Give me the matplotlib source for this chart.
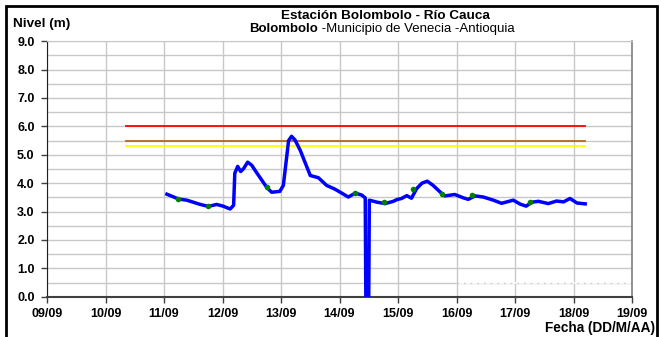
import numpy as np
import matplotlib.pyplot as plt
import matplotlib as mpl
from matplotlib.patches import Rectangle

mpl.rcParams.update({
    "font.family": ["Liberation Sans", "DejaVu Sans"],
    "font.size": 9,
    "font.weight": "bold",
})

# x values are days of September (9.0 = 09/09 00:00)
level_day = [11.05, 11.25, 11.39, 11.62, 11.76, 11.90, 12.01, 12.13, 12.19,
             12.21, 12.26, 12.31, 12.36, 12.43, 12.50, 12.59, 12.76, 12.84,
             12.98, 13.04, 13.13, 13.18, 13.24, 13.33, 13.50, 13.64, 13.78,
             13.92, 14.07, 14.15, 14.27, 14.38, 14.44, 14.45, 14.50, 14.51,
             14.64, 14.78, 14.92, 14.98, 15.06, 15.15, 15.23, 15.32, 15.41,
             15.50, 15.60, 15.75, 15.80, 15.97, 16.12, 16.20, 16.32, 16.46,
             16.63, 16.77, 16.97, 17.09, 17.19, 17.29, 17.40, 17.57, 17.71,
             17.83, 17.94, 18.06, 18.20]
level_m = [3.61, 3.44, 3.40, 3.25, 3.18, 3.25, 3.19, 3.09, 3.22,
           4.35, 4.59, 4.41, 4.51, 4.74, 4.63, 4.35, 3.84, 3.68,
           3.71, 3.92, 5.50, 5.65, 5.52, 5.15, 4.27, 4.19, 3.92,
           3.79, 3.61, 3.51, 3.65, 3.58, 3.48, 0.0, 0.0, 3.40,
           3.33, 3.28, 3.36, 3.42, 3.46, 3.56, 3.47, 3.81, 4.00,
           4.07, 3.92, 3.63, 3.55, 3.60, 3.48, 3.43, 3.55, 3.51,
           3.40, 3.29, 3.40, 3.26, 3.19, 3.33, 3.36, 3.28, 3.37,
           3.34, 3.46, 3.30, 3.27]

# manual readings (green dots)
obs_day = [11.245, 11.745, 12.755, 14.265, 14.76, 15.26, 15.76, 16.26, 17.26]
obs_m = [3.44, 3.19, 3.85, 3.65, 3.33, 3.78, 3.63, 3.57, 3.35]

# alert thresholds
alert_start, alert_end = 10.35, 18.19
alert_levels = [6.0, 5.5, 5.3]
alert_colors = ["#ff0000", "#b5651d", "#ffff00"]

tick_days = list(range(9, 20))
tick_labels = ["09/09", "10/09", "11/09", "12/09", "13/09", "14/09",
               "15/09", "16/09", "17/09", "18/09", "19/09"]

W, H = 661, 337
fig = plt.figure(figsize=(W / 100, H / 100), dpi=100)
ax = fig.add_axes([47 / W, 1 - 296.7 / H, 585 / W, 255.5 / H])

for lv, c in zip(alert_levels, alert_colors):
    ax.plot([alert_start, alert_end], [lv, lv], color=c, lw=1.3, zorder=3)

ax.plot(level_day, level_m, color="#0000ff", lw=2.5, zorder=4,
        solid_joinstyle="round")
ax.plot(obs_day, obs_m, "o", color="#008000", ms=4, mec="none", zorder=5)
# faint dotted white stretch over the 0.5 gridline
ax.plot([16.05, 19.0], [0.5, 0.5], color="white", lw=1.2, ls=(0, (3, 1)),
        zorder=2)

ax.set_xlim(9, 19)
ax.set_ylim(0, 9)
ax.set_xticks(tick_days)
ax.set_xticklabels(tick_labels)
ax.set_yticks(np.arange(0, 9.01, 1.0))
ax.set_yticklabels([f"{v:.1f}" for v in np.arange(0, 9.01, 1.0)])
ax.set_yticks(np.arange(0, 9.01, 0.5), minor=True)
ax.grid(True, which="both", color="#c8c8c8", lw=1.0, zorder=0)
ax.set_axisbelow(True)
ax.tick_params(axis="both", which="major", length=4, width=1,
               color="#404040", labelsize=9)
ax.tick_params(axis="x", pad=4)
ax.tick_params(axis="y", pad=5)
ax.tick_params(axis="y", which="minor", length=0)
for lab in ax.get_xticklabels() + ax.get_yticklabels():
    lab.set_fontweight("bold")
ax.spines["left"].set_color("#202020")
ax.spines["bottom"].set_color("#404040")
ax.spines["bottom"].set_linewidth(1.5)
ax.spines["top"].set_color("#c8c8c8")
ax.spines["right"].set_color("#808080")
ax.spines["right"].set_linewidth(1.2)

# outer frame
fig.patches.append(Rectangle((6 / W, -0.05), 651 / W, 1.05 - 6 / H,
                             transform=fig.transFigure, fill=False,
                             ec="black", lw=2.0))

fig.text(385 / W, 1 - 16 / H, "Estación Bolombolo - Río Cauca",
         ha="center", va="center", fontsize=9.7, fontweight="bold")
fig.text(318 / W, 1 - 29 / H, "Bolombolo", ha="right", va="center",
         fontsize=9.5, fontweight="bold")
fig.text(318 / W, 1 - 29 / H, " -Municipio de Venecia -Antioquia",
         ha="left", va="center", fontsize=9.5, fontweight="normal")
fig.text(13 / W, 1 - 24 / H, "Nivel (m)", ha="left", va="center",
         fontsize=9.7, fontweight="bold")
fig.text(655 / W, 1 - 328 / H, "Fecha (DD/M/AA)", ha="right", va="center",
         fontsize=9.8, fontweight="bold")

fig.savefig("out.png", dpi=100)
